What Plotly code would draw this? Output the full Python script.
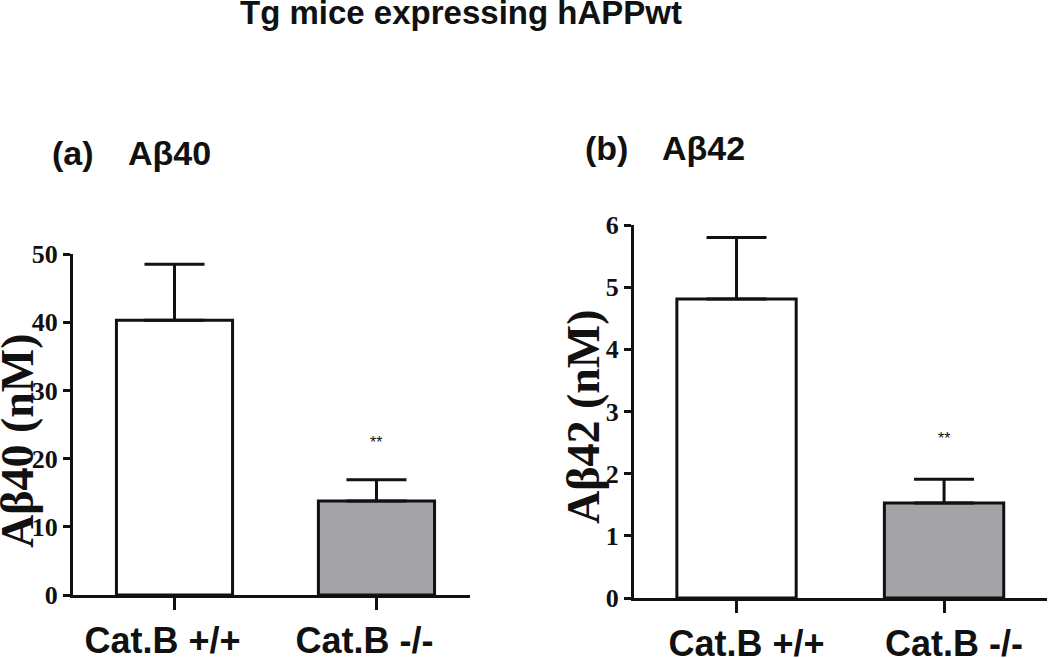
import plotly.graph_objects as go

categories = ["Cat.B +/+", "Cat.B -/-"]
ab40_values = [40.3, 13.8]
ab40_errors = [8.2, 3.1]
ab42_values = [4.81, 1.53]
ab42_errors = [0.99, 0.38]
significance = ["", "**"]
ab40_ticks = [0, 10, 20, 30, 40, 50]
ab42_ticks = [0, 1, 2, 3, 4, 5, 6]

bar_colors = ["#ffffff", "#a4a3a8"]
ink = "#111111"
sans = "Liberation Sans, Arial, sans-serif"
serif = "Liberation Serif, Times New Roman, serif"

W, H = 1050, 658


def px(x):
    return x / W


def py(y):
    return 1 - y / H


fig = go.Figure()

for vals, errs, xa, ya in [(ab40_values, ab40_errors, "x", "y"),
                           (ab42_values, ab42_errors, "x2", "y2")]:
    fig.add_trace(go.Bar(
        x=categories, y=vals, xaxis=xa, yaxis=ya, width=0.575,
        marker=dict(color=bar_colors, line=dict(color=ink, width=3)),
        error_y=dict(type="data", array=errs, arrayminus=[0] * len(errs),
                     symmetric=False, color=ink, thickness=3, width=30),
        showlegend=False, hoverinfo="skip",
    ))

# significance marks above error bars
for vals, errs, xa, ya, rng in [(ab40_values, ab40_errors, "x", "y", 50),
                                (ab42_values, ab42_errors, "x2", "y2", 6)]:
    for c, v, e, s in zip(categories, vals, errs, significance):
        if s:
            fig.add_annotation(x=c, y=v + e + 0.11 * rng, xref=xa, yref=ya,
                               text=s, showarrow=False,
                               font=dict(family=sans, size=16, color=ink))

axis_common = dict(showline=True, linecolor=ink, linewidth=3, showgrid=False,
                   zeroline=False, ticks="outside", tickcolor=ink, tickwidth=2.5,
                   automargin=False, fixedrange=True)

fig.update_layout(
    width=W, height=H,
    margin=dict(l=0, r=0, t=0, b=0, autoexpand=False),
    plot_bgcolor="white", paper_bgcolor="white",
    xaxis=dict(domain=[px(73), px(470)], range=[-0.5025, 1.463], ticklen=12,
               ticklabelshift=-12,
               tickfont=dict(family=sans, size=36, color=ink, weight="bold"),
               anchor="y", **axis_common),
    yaxis=dict(domain=[py(595), py(254)], range=[0, 50], tickvals=ab40_ticks, ticklen=7,
               tickfont=dict(family=serif, size=26, color=ink, weight="bold"),
               anchor="x", **axis_common),
    xaxis2=dict(domain=[px(634), px(1047)], range=[-0.494, 1.496], ticklen=12,
                ticklabelshift=10,
                tickfont=dict(family=sans, size=36, color=ink, weight="bold"),
                anchor="y2", **axis_common),
    yaxis2=dict(domain=[py(598), py(225)], range=[0, 6], tickvals=ab42_ticks, ticklen=7,
                tickfont=dict(family=serif, size=26, color=ink, weight="bold"),
                anchor="x2", **axis_common),
)

texts = [
    dict(text="Tg mice expressing hAPPwt", x=px(461), y=py(13), xanchor="center",
         font=dict(family=sans, size=33, color=ink, weight="bold")),
    dict(text="(a)", x=px(50), y=py(153), xanchor="left",
         font=dict(family=sans, size=34, color=ink, weight="bold")),
    dict(text="Aβ40", x=px(126), y=py(153), xanchor="left",
         font=dict(family=sans, size=34, color=ink, weight="bold")),
    dict(text="(b)", x=px(583), y=py(148), xanchor="left",
         font=dict(family=sans, size=34, color=ink, weight="bold")),
    dict(text="Aβ42", x=px(660), y=py(148), xanchor="left",
         font=dict(family=sans, size=34, color=ink, weight="bold")),
    dict(text="Aβ40 (nM)", x=px(17), y=py(441), xanchor="center", textangle=-90,
         font=dict(family=serif, size=46, color=ink, weight="bold")),
    dict(text="Aβ42 (nM)", x=px(583), y=py(417), xanchor="center", textangle=-90,
         font=dict(family=serif, size=46, color=ink, weight="bold")),
]
for t in texts:
    fig.add_annotation(xref="paper", yref="paper", showarrow=False,
                       yanchor="middle", **t)

fig.write_html("out.html", config={"displayModeBar": False},
               post_script="document.body.style.margin='0';")
